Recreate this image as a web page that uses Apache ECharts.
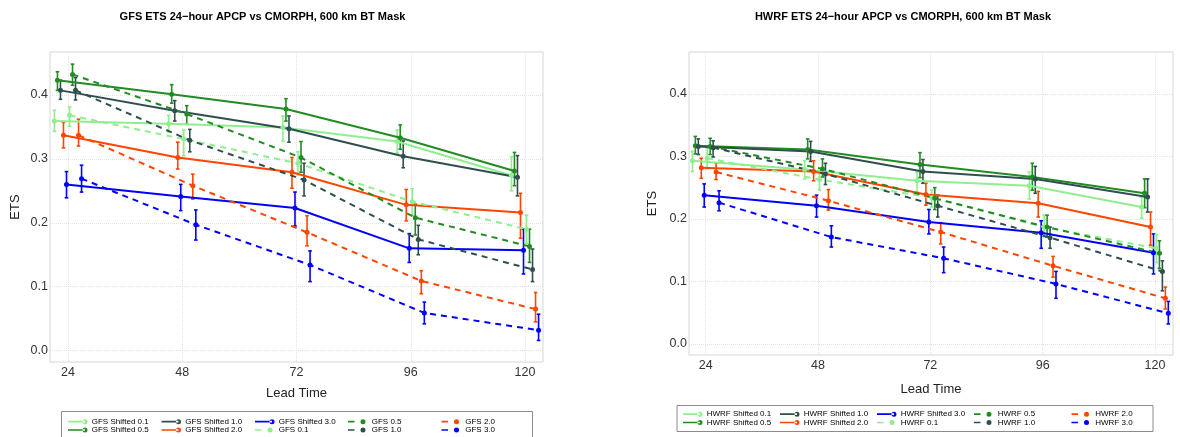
<!DOCTYPE html>
<html>
<head>
<meta charset="utf-8">
<script src="https://cdn.jsdelivr.net/npm/echarts@6/dist/echarts.min.js"></script>
<style>
  html, body { margin: 0; padding: 0; background: #fff; }
  #chart { width: 1180px; height: 437px; }
</style>
</head>
<body>
<div id="chart"></div>
<script>
// Lead times (hours)
const leadTimes = [24, 48, 72, 96, 120];
const yTicks = [0, 0.1, 0.2, 0.3, 0.4];

// ---- GFS: ETS with lower / upper confidence bounds ----
const gfsShifted01   = [0.359, 0.355, 0.349, 0.327, 0.274];
const gfsShifted01Lo = [0.343, 0.342, 0.328, 0.309, 0.250];
const gfsShifted01Hi = [0.376, 0.368, 0.367, 0.345, 0.303];
const gfsShifted05   = [0.423, 0.401, 0.378, 0.333, 0.281];
const gfsShifted05Lo = [0.407, 0.387, 0.359, 0.315, 0.258];
const gfsShifted05Hi = [0.436, 0.416, 0.394, 0.353, 0.310];
const gfsShifted10   = [0.407, 0.375, 0.347, 0.304, 0.271];
const gfsShifted10Lo = [0.393, 0.359, 0.326, 0.286, 0.242];
const gfsShifted10Hi = [0.423, 0.391, 0.367, 0.328, 0.305];
const gfsShifted20   = [0.337, 0.302, 0.279, 0.228, 0.216];
const gfsShifted20Lo = [0.317, 0.284, 0.254, 0.203, 0.176];
const gfsShifted20Hi = [0.357, 0.326, 0.302, 0.252, 0.246];
const gfsShifted30   = [0.260, 0.241, 0.223, 0.160, 0.157];
const gfsShifted30Lo = [0.239, 0.219, 0.195, 0.138, 0.120];
const gfsShifted30Hi = [0.280, 0.260, 0.248, 0.183, 0.190];
const gfs01   = [0.368, 0.331, 0.293, 0.233, 0.190];
const gfs01Lo = [0.351, 0.305, 0.275, 0.212, 0.168];
const gfs01Hi = [0.381, 0.345, 0.311, 0.253, 0.212];
const gfs05   = [0.432, 0.370, 0.302, 0.208, 0.163];
const gfs05Lo = [0.415, 0.354, 0.279, 0.181, 0.138];
const gfs05Hi = [0.448, 0.383, 0.327, 0.229, 0.190];
const gfs10   = [0.407, 0.329, 0.267, 0.174, 0.127];
const gfs10Lo = [0.392, 0.311, 0.242, 0.150, 0.108];
const gfs10Hi = [0.427, 0.346, 0.293, 0.196, 0.159];
const gfs20   = [0.337, 0.258, 0.185, 0.109, 0.065];
const gfs20Lo = [0.320, 0.237, 0.164, 0.089, 0.045];
const gfs20Hi = [0.362, 0.276, 0.211, 0.125, 0.091];
const gfs30   = [0.269, 0.197, 0.134, 0.059, 0.032];
const gfs30Lo = [0.248, 0.173, 0.108, 0.042, 0.016];
const gfs30Hi = [0.290, 0.220, 0.156, 0.076, 0.057];

// ---- HWRF: ETS with lower / upper confidence bounds ----
const hwrfShifted01   = [0.293, 0.279, 0.261, 0.253, 0.219];
const hwrfShifted01Lo = [0.276, 0.264, 0.243, 0.232, 0.201];
const hwrfShifted01Hi = [0.308, 0.293, 0.275, 0.275, 0.235];
const hwrfShifted05   = [0.317, 0.311, 0.287, 0.267, 0.241];
const hwrfShifted05Lo = [0.304, 0.296, 0.266, 0.246, 0.218];
const hwrfShifted05Hi = [0.332, 0.328, 0.306, 0.289, 0.264];
const hwrfShifted10   = [0.316, 0.308, 0.276, 0.264, 0.235];
const hwrfShifted10Lo = [0.303, 0.292, 0.257, 0.241, 0.211];
const hwrfShifted10Hi = [0.328, 0.324, 0.295, 0.284, 0.264];
const hwrfShifted20   = [0.282, 0.276, 0.239, 0.225, 0.187];
const hwrfShifted20Lo = [0.265, 0.261, 0.222, 0.203, 0.158];
const hwrfShifted20Hi = [0.297, 0.293, 0.257, 0.244, 0.211];
const hwrfShifted30   = [0.238, 0.221, 0.195, 0.178, 0.146];
const hwrfShifted30Lo = [0.219, 0.203, 0.176, 0.153, 0.112];
const hwrfShifted30Hi = [0.256, 0.238, 0.215, 0.197, 0.176];
const hwrf01   = [0.297, 0.263, 0.234, 0.187, 0.153];
const hwrf01Lo = [0.280, 0.246, 0.219, 0.171, 0.130];
const hwrf01Hi = [0.313, 0.275, 0.246, 0.206, 0.175];
const hwrf05   = [0.316, 0.280, 0.233, 0.187, 0.145];
const hwrf05Lo = [0.303, 0.267, 0.215, 0.171, 0.121];
const hwrf05Hi = [0.329, 0.296, 0.250, 0.206, 0.165];
const hwrf10   = [0.314, 0.272, 0.221, 0.170, 0.116];
const hwrf10Lo = [0.299, 0.255, 0.203, 0.153, 0.085];
const hwrf10Hi = [0.325, 0.289, 0.238, 0.187, 0.133];
const hwrf20   = [0.275, 0.229, 0.179, 0.125, 0.073];
const hwrf20Lo = [0.263, 0.214, 0.160, 0.107, 0.056];
const hwrf20Hi = [0.289, 0.247, 0.194, 0.140, 0.091];
const hwrf30   = [0.226, 0.171, 0.137, 0.096, 0.049];
const hwrf30Lo = [0.213, 0.155, 0.114, 0.073, 0.032];
const hwrf30Hi = [0.245, 0.189, 0.155, 0.116, 0.068];

// ---- styling ----
const C_LIGHT = '#90EE90', C_GREEN = '#228B22', C_SLATE = '#2F4F4F', C_ORANGE = '#FF4500', C_BLUE = '#0000FF';
const FONT = '"Liberation Sans", Arial, sans-serif';
const DODGE = 0.633;           // horizontal spacing between neighbouring runs (hours)

function runs(prefix, sets) {
  const colors = [C_LIGHT, C_GREEN, C_SLATE, C_ORANGE, C_BLUE];
  const thr = ['0.1', '0.5', '1.0', '2.0', '3.0'];
  const out = [];
  for (let k = 0; k < 10; k++) {
    const shifted = k < 5;
    const j = k % 5;
    const s = sets[k];
    out.push({
      name: prefix + (shifted ? ' Shifted ' : ' ') + thr[j],
      ets: s[0], lo: s[1], hi: s[2],
      color: colors[j], dashed: !shifted, slot: k
    });
  }
  return out;
}

const gfsRuns = runs('GFS', [
  [gfsShifted01, gfsShifted01Lo, gfsShifted01Hi],
  [gfsShifted05, gfsShifted05Lo, gfsShifted05Hi],
  [gfsShifted10, gfsShifted10Lo, gfsShifted10Hi],
  [gfsShifted20, gfsShifted20Lo, gfsShifted20Hi],
  [gfsShifted30, gfsShifted30Lo, gfsShifted30Hi],
  [gfs01, gfs01Lo, gfs01Hi],
  [gfs05, gfs05Lo, gfs05Hi],
  [gfs10, gfs10Lo, gfs10Hi],
  [gfs20, gfs20Lo, gfs20Hi],
  [gfs30, gfs30Lo, gfs30Hi]
]);
const hwrfRuns = runs('HWRF', [
  [hwrfShifted01, hwrfShifted01Lo, hwrfShifted01Hi],
  [hwrfShifted05, hwrfShifted05Lo, hwrfShifted05Hi],
  [hwrfShifted10, hwrfShifted10Lo, hwrfShifted10Hi],
  [hwrfShifted20, hwrfShifted20Lo, hwrfShifted20Hi],
  [hwrfShifted30, hwrfShifted30Lo, hwrfShifted30Hi],
  [hwrf01, hwrf01Lo, hwrf01Hi],
  [hwrf05, hwrf05Lo, hwrf05Hi],
  [hwrf10, hwrf10Lo, hwrf10Hi],
  [hwrf20, hwrf20Lo, hwrf20Hi],
  [hwrf30, hwrf30Lo, hwrf30Hi]
]);

function errorBarRenderer(color) {
  return function (params, api) {
    const x = api.value(0);
    const top = api.coord([x, api.value(2)]);
    const bot = api.coord([x, api.value(1)]);
    const cap = 1.8;
    const style = { stroke: color, lineWidth: 1.6 };
    return {
      type: 'group',
      children: [
        { type: 'line', shape: { x1: top[0], y1: top[1], x2: bot[0], y2: bot[1] }, style },
        { type: 'line', shape: { x1: top[0] - cap, y1: top[1], x2: top[0] + cap, y2: top[1] }, style },
        { type: 'line', shape: { x1: bot[0] - cap, y1: bot[1], x2: bot[0] + cap, y2: bot[1] }, style }
      ]
    };
  };
}

function buildSeries(runList, axisIndex) {
  const series = [];
  runList.forEach(r => {
    const off = (r.slot - 4.5) * DODGE;
    const pts = leadTimes.map((t, i) => [t + off, r.ets[i]]);
    const bars = leadTimes.map((t, i) => [t + off, r.lo[i], r.hi[i]]);
    series.push({
      type: 'line', name: r.name, xAxisIndex: axisIndex, yAxisIndex: axisIndex,
      data: pts, symbol: 'circle', symbolSize: 5, showSymbol: true,
      lineStyle: { color: r.color, width: 2, type: r.dashed ? [6, 5] : 'solid' },
      itemStyle: { color: r.color }, animation: false, z: 3
    });
    series.push({
      type: 'custom', name: r.name + ' CI', xAxisIndex: axisIndex, yAxisIndex: axisIndex,
      data: bars, renderItem: errorBarRenderer(r.color), encode: { x: 0, y: [1, 2] },
      animation: false, z: 2
    });
  });
  return series;
}

const ICON_SOLID = 'path://M0,1.7h17v1.6h-17z M14.5,2.5a2.5,2.5 0 1,0 5,0a2.5,2.5 0 1,0 -5,0';
const ICON_DASH  = 'path://M0,1.7h6.5v1.6h-6.5z M12.5,2.5a2.5,2.5 0 1,0 5,0a2.5,2.5 0 1,0 -5,0 M19.5,2.5h0.01v0.01h-0.01z';

function legendColumns(runList, xs, top) {
  const cols = [];
  for (let c = 0; c < 5; c++) {
    const items = [runList[2 * c], runList[2 * c + 1]];
    cols.push({
      orient: 'vertical', left: xs[c], top: top, padding: 0, itemGap: 0,
      itemWidth: 20, itemHeight: 5, selectedMode: false,
      textStyle: { fontSize: 8, lineHeight: 8.3, color: '#000', fontFamily: FONT, padding: [0, 0, 0, -1] },
      data: items.map(r => ({ name: r.name, icon: r.dashed ? ICON_DASH : ICON_SOLID }))
    });
  }
  return cols;
}

function xAxisCfg(gridIndex, min, max, nameGap) {
  return {
    type: 'value', gridIndex, min, max,
    name: 'Lead Time', nameLocation: 'middle', nameGap,
    nameTextStyle: { fontSize: 13, color: '#222', fontFamily: FONT },
    axisLine: { show: false },
    axisTick: { show: false, customValues: leadTimes },
    axisLabel: { customValues: leadTimes, fontSize: 12.5, color: '#333', fontFamily: FONT, margin: 4 },
    splitLine: { show: true, lineStyle: { color: '#e3e3e3', type: 'dotted', width: 1 } }
  };
}
function yAxisCfg(gridIndex, nameGap) {
  return {
    type: 'value', gridIndex, min: -0.0177, max: 0.467,
    name: 'ETS', nameLocation: 'middle', nameGap,
    nameTextStyle: { fontSize: 13, color: '#222', fontFamily: FONT },
    axisLine: { show: false },
    axisTick: { show: false, customValues: yTicks },
    axisLabel: { customValues: yTicks, fontSize: 12.5, color: '#333', fontFamily: FONT, margin: 2,
                 formatter: v => v.toFixed(1) },
    splitLine: { show: true, lineStyle: { color: '#e3e3e3', type: 'dotted', width: 1 } }
  };
}

const chart = echarts.init(document.getElementById('chart'), null, { renderer: 'canvas' });
chart.setOption({
  backgroundColor: '#fff',
  animation: false,
  textStyle: { fontFamily: FONT },
  grid: [
    { left: 50, top: 52, width: 493, height: 310, show: true, borderColor: '#d6d6d6', borderWidth: 1, backgroundColor: 'transparent' },
    { left: 689, top: 52, width: 484, height: 303, show: true, borderColor: '#d6d6d6', borderWidth: 1, backgroundColor: 'transparent' }
  ],
  xAxis: [xAxisCfg(0, 20.22, 123.78, 25), xAxisCfg(1, 20.43, 123.85, 27.5)],
  yAxis: [yAxisCfg(0, 28.5), yAxisCfg(1, 30)],
  legend: [
    ...legendColumns(gfsRuns, [68, 161.5, 255, 348, 441.5], 417.5),
    ...legendColumns(hwrfRuns, [683, 780, 877, 974, 1071.5], 410)
  ],
  graphic: [
    { type: 'text', x: 262.5, y: 17, style: { text: 'GFS ETS 24\u2212hour APCP vs CMORPH, 600 km BT Mask',
      font: 'bold 11px ' + FONT, fill: '#000', textAlign: 'center', textVerticalAlign: 'middle' } },
    { type: 'text', x: 903, y: 17, style: { text: 'HWRF ETS 24\u2212hour APCP vs CMORPH, 600 km BT Mask',
      font: 'bold 11px ' + FONT, fill: '#000', textAlign: 'center', textVerticalAlign: 'middle' } },
    { type: 'rect', shape: { x: 61.5, y: 411.5, width: 471, height: 40 }, style: { fill: 'none', stroke: '#8c8c8c', lineWidth: 1 }, silent: true },
    { type: 'rect', shape: { x: 677, y: 405.5, width: 476, height: 26 }, style: { fill: 'none', stroke: '#8c8c8c', lineWidth: 1 }, silent: true }
  ],
  series: [...buildSeries(gfsRuns, 0), ...buildSeries(hwrfRuns, 1)]
});
</script>
</body>
</html>
